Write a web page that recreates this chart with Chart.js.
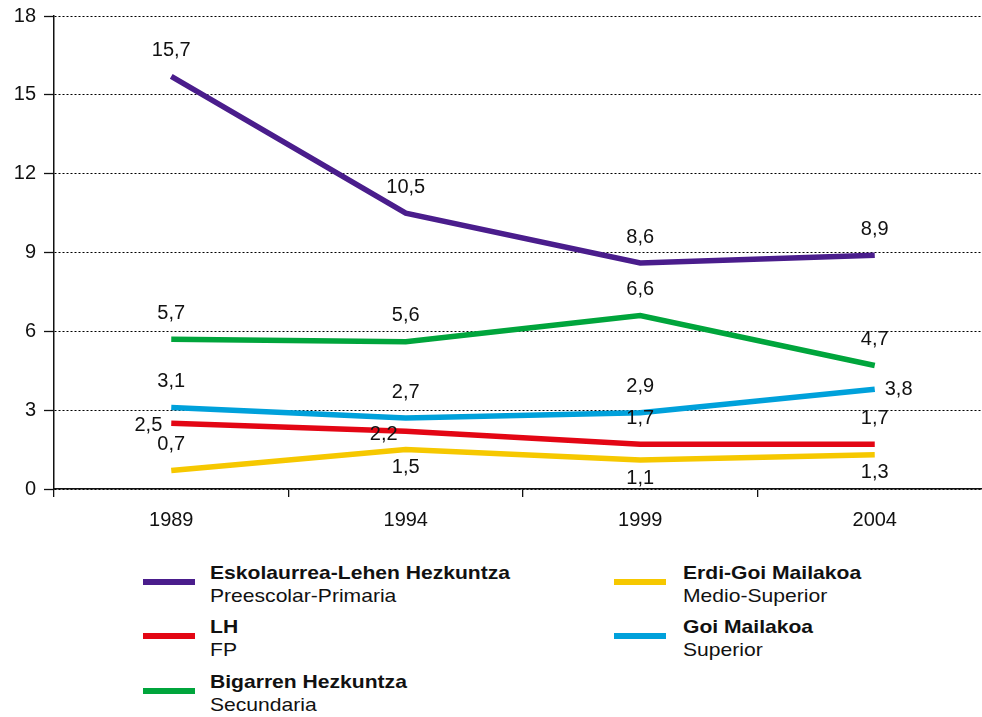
<!DOCTYPE html>
<html>
<head>
<meta charset="utf-8">
<script src="https://cdn.jsdelivr.net/npm/chart.js@4"></script>
<style>
  html, body { margin: 0; padding: 0; background: #fff; overflow: hidden; width: 982px; height: 717px; }
  #wrap { position: absolute; left: 0; top: 0; width: 992px; height: 535px; }
  .leg { position: absolute; font-family: 'Liberation Sans', Arial, sans-serif; font-size: 19px; color: #111; line-height: 23px; }
  .leg .sw { position: absolute; left: 0; top: 18px; width: 52px; height: 6px; }
  .leg .tx { position: absolute; white-space: nowrap; transform: scaleX(1.11); transform-origin: 0 0; }
  .leg b { font-weight: bold; }
</style>
</head>
<body>
<div id="wrap"><canvas id="mainChart"></canvas></div>
<div id="legend"></div>
<script>
const years = ['1989', '1994', '1999', '2004'];
const yTicks = [0, 3, 6, 9, 12, 15, 18];

const preescolar = [15.7, 10.5, 8.6, 8.9];
const fp = [2.5, 2.2, 1.7, 1.7];
const secundaria = [5.7, 5.6, 6.6, 4.7];
const medioSuperior = [0.7, 1.5, 1.1, 1.3];
const superior = [3.1, 2.7, 2.9, 3.8];

const namesEu = ['Eskolaurrea-Lehen Hezkuntza', 'LH', 'Bigarren Hezkuntza', 'Erdi-Goi Mailakoa', 'Goi Mailakoa'];
const namesEs = ['Preescolar-Primaria', 'FP', 'Secundaria', 'Medio-Superior', 'Superior'];

const colors = ['#4a1d8c', '#e30614', '#00a53c', '#f6c800', '#00a1db'];
const seriesData = [preescolar, fp, secundaria, medioSuperior, superior];

// where each value label sits relative to its point
const labelPos = [
  ['up', 'up', 'up', 'up'],
  ['left', 'downleft', 'up', 'up'],
  ['up', 'up', 'up', 'up'],
  ['up', 'down', 'down', 'down'],
  ['up', 'up', 'up', 'right']
];

const FONT = "'Liberation Sans', Arial, sans-serif";

const valueLabels = {
  id: 'valueLabels',
  afterDatasetsDraw: function(chart) {
    var ctx = chart.ctx;
    ctx.save();
    ctx.font = '20px ' + FONT;
    ctx.fillStyle = '#111';
    ctx.textBaseline = 'middle';
    chart.data.datasets.forEach(function(ds, di) {
      var meta = chart.getDatasetMeta(di);
      meta.data.forEach(function(pt, i) {
        var txt = ds.data[i].toFixed(1).replace('.', ',');
        var pos = labelPos[di][i];
        var x = pt.x, y = pt.y;
        ctx.textAlign = 'center';
        if (pos === 'up') { y -= 26; }
        else if (pos === 'down') { y += 18; }
        else if (pos === 'left') { ctx.textAlign = 'right'; x -= 9; y += 2; }
        else if (pos === 'right') { ctx.textAlign = 'left'; x += 10; }
        else if (pos === 'downleft') { x -= 22; y += 3; }
        ctx.fillText(txt, x, y);
      });
    });
    ctx.restore();
  }
};

var datasets = seriesData.map(function(d, i) {
  return {
    label: namesEu[i], data: d,
    borderColor: colors[i], backgroundColor: colors[i],
    borderWidth: 5.5, pointRadius: 0, tension: 0, borderCapStyle: 'butt', borderJoinStyle: 'miter',
    order: i
  };
});

new Chart(document.getElementById('mainChart').getContext('2d'), {
  type: 'line',
  data: { labels: years, datasets: datasets },
  plugins: [valueLabels],
  options: {
    responsive: true, maintainAspectRatio: false, animation: false,
    layout: { padding: { top: 16, left: 0, right: 0, bottom: 0 } },
    plugins: { legend: { display: false }, tooltip: { enabled: false } },
    scales: {
      x: {
        offset: true,
        grid: { offset: true, drawOnChartArea: false, drawTicks: true, tickLength: 8, color: '#111', lineWidth: 1.3 },
        border: { color: '#111', width: 1.5 },
        ticks: { color: '#111', font: { family: FONT, size: 20 }, padding: 11, maxRotation: 0 },
        afterFit: function(s) { s.height = 46; }
      },
      y: {
        min: 0, max: 18,
        afterBuildTicks: function(s) { s.ticks = yTicks.map(function(v) { return { value: v }; }); },
        grid: { color: '#000', lineWidth: 1, tickBorderDash: [], tickLength: 10, tickColor: '#111', tickWidth: 1.3 },
        border: { color: '#111', width: 1.5, dash: [2, 2] },
        ticks: { color: '#111', font: { family: FONT, size: 20 }, padding: 8 },
        afterFit: function(s) { s.width = 54; s.paddingTop = 0; s.paddingBottom = 0; }
      }
    }
  }
});

// legend: two columns, euskara in bold over castellano
var legendSlots = [
  { left: 143, top: 561 }, { left: 143, top: 615 }, { left: 143, top: 670 },
  { left: 614, top: 561 }, { left: 614, top: 615 }
];
var legendEl = document.getElementById('legend');
legendSlots.forEach(function(p, i) {
  var d = document.createElement('div');
  d.className = 'leg';
  d.style.left = p.left + 'px';
  d.style.top = p.top + 'px';
  d.innerHTML = '<div class="sw" style="background:' + colors[i] + '"></div>' +
    '<div class="tx" style="left:' + (i < 3 ? 67 : 69) + 'px"><b>' + namesEu[i] + '</b><br>' + namesEs[i] + '</div>';
  legendEl.appendChild(d);
});
</script>
</body>
</html>
